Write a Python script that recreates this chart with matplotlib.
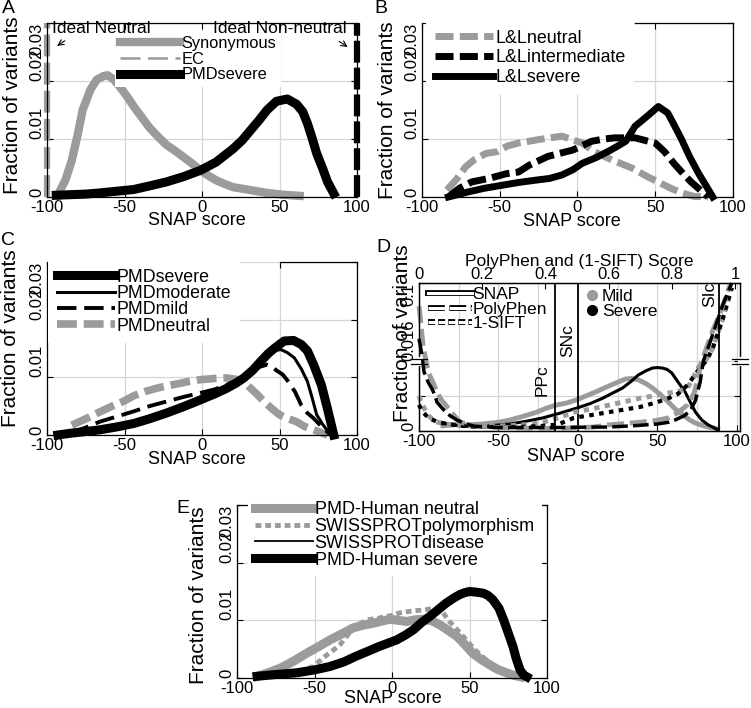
import matplotlib.pyplot as plt
import matplotlib.patheffects as pe
from matplotlib.lines import Line2D
import numpy as np

plt.rcParams['font.family'] = ['Liberation Sans', 'DejaVu Sans']

GRAY = '#9b9b9b'
GRID = '#d6d6d6'

# ---------------- data ----------------
snap_ticks = [-100, -50, 0, 50, 100]
frac_ticks = [0, 0.01, 0.02, 0.03]
frac_labels = ['0', '0.01', '0.02', '0.03']

# A
a_x = [-93, -88, -84, -80, -77, -72, -68, -64, -61, -57, -53, -48, -44, -39, -34,
       -28, -23, -17, -12, -6, -1, 4, 9, 15, 20, 31, 42, 52, 63]
a_syn = [0.0003, 0.003, 0.0063, 0.011, 0.015, 0.0185, 0.0202, 0.0208, 0.021, 0.0203,
         0.019, 0.0172, 0.0156, 0.0138, 0.012, 0.0103, 0.009, 0.0079, 0.0069, 0.0057,
         0.0046, 0.0037, 0.0029, 0.0022, 0.0017, 0.0012, 0.0007, 0.0004, 0.0002]
a_ec = [0.0008, 0.004, 0.0078, 0.0125, 0.016, 0.019, 0.0204, 0.0207, 0.0206, 0.0198,
        0.0186, 0.0169, 0.0154, 0.0136, 0.0119, 0.0102, 0.0089, 0.0078, 0.0068, 0.0056,
        0.0045, 0.0036, 0.0028, 0.0021, 0.0016, 0.0011, 0.0007, 0.0004, 0.0002]
a_sev_x = [-94, -85, -75, -66, -55, -44, -34, -23, -12, -1, 9, 20, 26, 31, 37, 42,
           48, 55, 61, 65, 68, 71, 74, 78, 81, 85]
a_sev = [0.0003, 0.0004, 0.0005, 0.0007, 0.001, 0.0013, 0.0019, 0.0026, 0.0035, 0.0046,
         0.006, 0.0083, 0.0098, 0.0114, 0.0133, 0.015, 0.0165, 0.0169, 0.016, 0.0147,
         0.0127, 0.0102, 0.0075, 0.0048, 0.0026, 0.0006]

# B
lln_x = [-84, -78, -72, -66, -59, -52, -45, -38, -25, -10, 3, 11, 22, 35, 45, 54, 60, 67, 75, 84]
lln_y = [0.0012, 0.003, 0.0052, 0.0065, 0.0075, 0.0078, 0.0088, 0.0093, 0.0099, 0.0105,
         0.0093, 0.0078, 0.0064, 0.005, 0.0035, 0.0023, 0.0015, 0.0007, 0.0001, 0.0]
lli_x = [-83, -76, -68, -57, -46, -38, -31, -19, -3, 9, 17, 24, 37, 50, 56, 62, 68, 73, 79, 84]
lli_y = [0.0, 0.0015, 0.0026, 0.0032, 0.004, 0.0043, 0.0055, 0.007, 0.0081, 0.0096,
         0.01, 0.0102, 0.0102, 0.0093, 0.0078, 0.0058, 0.004, 0.0026, 0.0012, 0.0]
lls_x = [-83, -70, -60, -49, -38, -27, -18, -10, -3, 3, 12, 20, 26, 31, 37, 42, 46,
         52, 58, 62, 67, 72, 78, 83, 87]
lls_y = [0.0, 0.0009, 0.0015, 0.002, 0.0025, 0.0029, 0.0032, 0.0038, 0.0047, 0.0058,
         0.0068, 0.0079, 0.0088, 0.0096, 0.0122, 0.0133, 0.0142, 0.0156, 0.0145, 0.0125,
         0.0099, 0.007, 0.004, 0.0018, 0.0]

# C
c_sev_x = [-93, -85, -75, -66, -55, -44, -34, -23, -12, -1, 8, 16, 22, 27, 33, 38, 43,
           47, 53, 59, 64, 68, 72, 77, 81, 85]
c_sev = [0.0, 0.0003, 0.0006, 0.0009, 0.0014, 0.002, 0.0028, 0.0038, 0.0049, 0.0061,
         0.0071, 0.0081, 0.009, 0.0099, 0.0113, 0.0128, 0.0142, 0.0151, 0.0163, 0.0164,
         0.0157, 0.0146, 0.0122, 0.0087, 0.0045, 0.0]
c_mod_x = [-93, -75, -55, -44, -34, -23, -12, -1, 8, 16, 22, 27, 33, 38, 43, 47, 51,
           55, 59.5, 64, 68, 71, 74, 78, 83]
c_mod = [0.0, 0.0007, 0.0016, 0.0022, 0.003, 0.004, 0.0051, 0.0063, 0.0073, 0.0083,
         0.0092, 0.0101, 0.0114, 0.0129, 0.0141, 0.0147, 0.0148, 0.0143, 0.0134, 0.0115,
         0.0093, 0.0065, 0.0035, 0.0018, 0.0]
c_mild_x = [-85, -75, -66, -55, -44, -34, -23, -12, -1, 8, 16, 24, 31, 37, 42, 45, 48,
            52, 55, 60, 64, 68, 72, 77, 83]
c_mild = [0.0003, 0.0013, 0.0023, 0.0032, 0.0041, 0.005, 0.0058, 0.0066, 0.0073, 0.0079,
          0.0087, 0.0097, 0.0108, 0.0118, 0.0122, 0.0119, 0.0112, 0.0105, 0.0095, 0.0075,
          0.0052, 0.0038, 0.0029, 0.0015, 0.0]
c_neu_x = [-84, -75, -66, -58, -51, -44, -36, -28, -19, -10, -1, 8, 16, 23, 29, 35, 40,
           45, 50, 55, 61, 66, 72, 77, 81]
c_neu = [0.0017, 0.0028, 0.004, 0.005, 0.0058, 0.0068, 0.0076, 0.0082, 0.0087, 0.0092,
         0.0096, 0.0098, 0.0099, 0.0096, 0.0087, 0.0072, 0.0058, 0.0046, 0.0035, 0.0029,
         0.0023, 0.0015, 0.0009, 0.0004, 0.0]

# D  (SNAP on bottom axis, PolyPhen / 1-SIFT on top axis)
d_snap_mild_x = [-85, -75, -70, -60, -50, -43, -35, -26, -20, -14, -7, -1, 5, 11, 17, 24,
                 30, 34, 38, 43, 47, 52, 57, 61, 66, 70, 74, 78, 82, 88]
d_snap_mild = [0.0012, 0.0015, 0.0014, 0.0016, 0.002, 0.0025, 0.0033, 0.0043, 0.0052,
               0.0059, 0.0064, 0.0071, 0.008, 0.0089, 0.0099, 0.011, 0.0119, 0.012, 0.0117,
               0.0108, 0.0098, 0.0083, 0.0066, 0.0051, 0.0037, 0.0026, 0.0018, 0.0013,
               0.0009, 0.0005]
d_snap_sev_x = [-85, -75, -64, -55, -43, -33, -22, -12, -1, 8, 15.6, 22, 28, 33, 38, 43,
                47, 50, 53, 56, 59, 63, 67.5, 71, 74, 78, 82, 88]
d_snap_sev = [0.0018, 0.0012, 0.0009, 0.0012, 0.0016, 0.0022, 0.003, 0.004, 0.0052,
              0.0063, 0.0075, 0.0087, 0.0098, 0.0112, 0.0128, 0.0138, 0.0144, 0.0145,
              0.0144, 0.0141, 0.0133, 0.0112, 0.0089, 0.0064, 0.0043, 0.0025, 0.0014, 0.0003]
d_pp_mild_x = [0.0, 0.005, 0.012, 0.02, 0.03, 0.045, 0.057, 0.07, 0.085, 0.1, 0.13, 0.18,
               0.25, 0.35, 0.45, 0.55, 0.6, 0.65, 0.7, 0.75, 0.79, 0.82, 0.85, 0.87, 0.88,
               0.895, 0.91, 0.93, 0.95, 0.97, 0.985]
d_pp_mild = [0.075, 0.06, 0.035, 0.02, 0.0133, 0.011, 0.0089, 0.0072, 0.0059, 0.0045,
             0.002, 0.0012, 0.0008, 0.0006, 0.0006, 0.0009, 0.0014, 0.0017, 0.002, 0.0024,
             0.003, 0.0042, 0.006, 0.0085, 0.0112, 0.016, 0.03, 0.049, 0.065, 0.084, 0.098]
d_pp_sev_x = [0.0, 0.008, 0.016, 0.03, 0.04, 0.05, 0.057, 0.07, 0.085, 0.1, 0.12, 0.15,
              0.175, 0.25, 0.35, 0.45, 0.55, 0.6, 0.68, 0.755, 0.79, 0.81, 0.84, 0.86,
              0.875, 0.89, 0.9, 0.92, 0.94, 0.96, 0.98, 0.99]
d_pp_sev = [0.04, 0.025, 0.0135, 0.011, 0.0098, 0.0082, 0.0066, 0.0055, 0.0043, 0.0034,
            0.0025, 0.0016, 0.0011, 0.0008, 0.0008, 0.0008, 0.0009, 0.0009, 0.0012, 0.0016,
            0.002, 0.0025, 0.0035, 0.0048, 0.007, 0.0112, 0.016, 0.035, 0.055, 0.075,
            0.092, 0.1]
d_sift_mild_x = [0.0, 0.01, 0.03, 0.05, 0.08, 0.12, 0.2, 0.28, 0.35, 0.39, 0.44, 0.49,
                 0.55, 0.6, 0.65, 0.7, 0.75, 0.79, 0.82, 0.85, 0.87, 0.885, 0.9, 0.91,
                 0.93, 0.96, 0.99]
d_sift_mild = [0.008, 0.006, 0.0035, 0.0022, 0.0016, 0.0013, 0.0011, 0.0012, 0.0015,
               0.002, 0.003, 0.0043, 0.0051, 0.0059, 0.0067, 0.0075, 0.0081, 0.0087, 0.009,
               0.0098, 0.0125, 0.0146, 0.016, 0.018, 0.03, 0.06, 0.095]
d_sift_sev_x = [0.0, 0.01, 0.03, 0.06, 0.1, 0.15, 0.22, 0.3, 0.38, 0.44, 0.49, 0.55, 0.6,
                0.65, 0.7, 0.75, 0.79, 0.82, 0.85, 0.87, 0.89, 0.91, 0.93, 0.96, 0.99]
d_sift_sev = [0.006, 0.0045, 0.003, 0.002, 0.0015, 0.0011, 0.0009, 0.0009, 0.0011, 0.0015,
              0.003, 0.0037, 0.0043, 0.0049, 0.0055, 0.0065, 0.0075, 0.0085, 0.0105,
              0.0125, 0.0145, 0.0165, 0.03, 0.06, 0.095]
pp_cut, snap_cut, sift_cut = 0.43, 0, 0.95
pp_ticks = [0, 0.2, 0.4, 0.6, 0.8, 1]
pp_labels = ['0', '0.2', '0.4', '0.6', '0.8', '1']

# E
e_neu_x = [-87, -80, -72, -63, -55, -47, -40, -32, -25, -18, -12, -6, -1, 4, 9.5, 15, 20,
           26, 31, 36, 42, 47, 52, 57, 63, 68, 74, 78, 83]
e_neu = [0.0003, 0.0009, 0.0017, 0.003, 0.0043, 0.0055, 0.0066, 0.0077, 0.0087, 0.0092,
         0.0095, 0.0099, 0.0102, 0.01, 0.0098, 0.0101, 0.0102, 0.0099, 0.0092, 0.0083,
         0.0072, 0.0058, 0.0043, 0.0033, 0.0023, 0.0015, 0.0009, 0.0005, 0.0002]
e_poly_x = [-66, -58, -51, -46, -42, -38, -33.5, -29, -25, -20, -16, -10, -3.4, 1, 5, 10,
            16, 21, 27, 30, 33, 37, 42, 45, 48, 53, 58, 63, 70, 77, 82]
e_poly = [0.0008, 0.0013, 0.002, 0.0031, 0.004, 0.0048, 0.0058, 0.0073, 0.0087, 0.0095,
          0.0101, 0.0103, 0.0107, 0.0109, 0.0113, 0.0115, 0.0117, 0.0118, 0.0121, 0.0118,
          0.0113, 0.0098, 0.0084, 0.0075, 0.0066, 0.005, 0.0038, 0.0026, 0.0014, 0.0006,
          0.0002]
e_sev_x = [-87, -75, -61.5, -50, -40, -31, -23, -15, -8, -2, 3, 9, 14, 19, 24.5, 30, 35,
           40, 44, 47, 50, 54, 59, 62, 65, 69, 72, 75, 78, 80, 82.6, 85, 87]
e_sev = [0.0003, 0.0006, 0.0009, 0.0014, 0.002, 0.0028, 0.0038, 0.0047, 0.0055, 0.0061,
         0.0066, 0.0075, 0.0084, 0.0096, 0.0107, 0.0119, 0.013, 0.0139, 0.0145, 0.0148,
         0.015, 0.0149, 0.0147, 0.0143, 0.0136, 0.0121, 0.0101, 0.0078, 0.0055, 0.0035,
         0.0014, 0.0005, 0.0002]
e_dis = [0.0003, 0.0006, 0.0009, 0.0014, 0.002, 0.0028, 0.0038, 0.0047, 0.0055, 0.0062,
         0.0068, 0.0077, 0.0087, 0.0099, 0.011, 0.0122, 0.0133, 0.0142, 0.0148, 0.0152,
         0.0151, 0.0148, 0.0145, 0.014, 0.0132, 0.0118, 0.0099, 0.0076, 0.0053, 0.0033,
         0.0013, 0.0005, 0.0002]

# ---------------- figure ----------------
fig = plt.figure(figsize=(7.51, 7.08), dpi=100)


def place(l, t, r, b):
    return fig.add_axes([l / 751, 1 - b / 708, (r - l) / 751, (b - t) / 708])


def style(ax, xlab, ylab):
    ax.set_xlim(-100, 100)
    ax.set_ylim(0, 0.03)
    ax.set_xticks(snap_ticks)
    ax.set_xticklabels([str(t) for t in snap_ticks])
    ax.set_yticks(frac_ticks)
    ax.set_yticklabels(frac_labels)
    ax.tick_params(direction='in', length=4, width=0.8, top=True, right=True,
                   labelsize=12, pad=2)
    ax.tick_params(axis='y', labelrotation=90)
    labs = ax.get_yticklabels()
    for lab in labs:
        lab.set_va('bottom')
    labs[-1].set_va('top')
    ax.grid(True, color=GRID, lw=0.9)
    ax.set_axisbelow(True)
    for s in ax.spines.values():
        s.set_linewidth(0.9)
    ax.set_xlabel('SNAP score', fontsize=13)
    ax.set_ylabel('Fraction of variants', fontsize=15)
    ax.xaxis.set_label_coords(*xlab)
    ax.yaxis.set_label_coords(*ylab)


leg_kw = dict(loc='upper left', borderaxespad=0, fancybox=False, facecolor='white',
              edgecolor='none', framealpha=1)

# ---- A ----
axA = place(47, 23, 357, 197)
style(axA, (0.484, -0.085), (-0.081, 0.53))
axA.plot([-100, -100], [0, 0.03], color=GRAY, lw=4.5, dashes=(3.5, 1), clip_on=False)
axA.plot([100, 100], [0, 0.03], color='black', lw=4.5, dashes=(3.5, 0.8), clip_on=False)
axA.plot(a_x, a_syn, color=GRAY, lw=6, label='Synonymous', clip_on=False)
axA.plot(a_x, a_ec, color=GRAY, lw=1.8, dashes=(8, 3), label='EC', clip_on=False)
axA.plot(a_sev_x, a_sev, color='black', lw=6.5, label='PMDsevere', clip_on=False)
axA.text(-96.8, 0.0303, 'Ideal Neutral', fontsize=12.5, va='top', zorder=6)
axA.text(7.1, 0.0303, 'Ideal Non-neutral', fontsize=12.5, va='top', zorder=6)
axA.annotate('', xy=(-95, 0.0258), xytext=(-87, 0.0272),
             arrowprops=dict(arrowstyle='->', lw=0.8, color='black'), zorder=6)
axA.annotate('', xy=(95.5, 0.0256), xytext=(87, 0.0271),
             arrowprops=dict(arrowstyle='->', lw=0.8, color='black'), zorder=6)
axA.legend(bbox_to_anchor=(0.219, 0.955), borderpad=0.3, fontsize=11.8,
           handlelength=3.66, handletextpad=0.12, labelspacing=0.05, **leg_kw)

# ---- B ----
axB = place(422, 23, 733, 197)
style(axB, (0.482, -0.092), (-0.080, 0.5))
axB.spines['top'].set_bounds(37, 100)
axB.plot(lln_x, lln_y, color=GRAY, lw=5, dashes=(2.6, 0.9), label='L&Lneutral', clip_on=False)
axB.plot(lli_x, lli_y, color='black', lw=5, dashes=(2.6, 0.9), label='L&Lintermediate',
         clip_on=False)
axB.plot(lls_x, lls_y, color='black', lw=5, label='L&Lsevere', clip_on=False)
axB.legend(bbox_to_anchor=(0.013, 1.014), borderpad=0.5, fontsize=12.9,
           handlelength=3.25, handletextpad=0.1, labelspacing=0.15, **leg_kw)

# ---- C ----
axC = place(47, 262, 357, 435)
style(axC, (0.484, -0.092), (-0.087, 0.56))
axC.spines['top'].set_bounds(50, 100)
axC.plot(c_neu_x, c_neu, color=GRAY, lw=5.5, dashes=(2.6, 0.9), label='PMDneutral',
         clip_on=False)
axC.plot(c_mild_x, c_mild, color='black', lw=2.8, dashes=(5, 2), label='PMDmild', clip_on=False)
axC.plot(c_mod_x, c_mod, color='black', lw=2.2, label='PMDmoderate', clip_on=False)
axC.plot(c_sev_x, c_sev, color='black', lw=6.5, label='PMDsevere', clip_on=False)
hC, lC = axC.get_legend_handles_labels()
axC.legend(hC[::-1], lC[::-1], bbox_to_anchor=(0.003, 1.013), borderpad=0.5, fontsize=12.8,
           handlelength=3.26, handletextpad=0.1, labelspacing=-0.04, **leg_kw)

# ---- D ----
brk, frac = 0.016, 0.473


def fwd(y):
    y = np.asarray(y, dtype=float)
    return np.where(y <= brk, y / brk * frac, frac + (y - brk) / (0.1 - brk) * (1 - frac))


def inv(v):
    v = np.asarray(v, dtype=float)
    return np.where(v <= frac, v / frac * brk, brk + (v - frac) / (1 - frac) * (0.1 - brk))


axD = place(419, 283, 740, 431)
axD.set_yscale('function', functions=(fwd, inv))
axD.set_ylim(0, 0.1)
axD.set_xlim(-99, 102)
axD2 = axD.twiny()
axD2.set_xlim(0, 1.016)

axD.set_xticks(snap_ticks)
axD.set_xticklabels([str(t) for t in snap_ticks])
axD.set_yticks([0, 0.008, brk, 0.1])
axD.set_yticklabels(['0', '', '0.016', '0.1'])
axD.tick_params(direction='in', length=4, width=0.8, right=True, top=False, labelsize=12, pad=2)
axD.tick_params(axis='y', labelrotation=90)
labs = axD.get_yticklabels()
for lab in labs:
    lab.set_va('bottom')
labs[-1].set_va('top')
axD.grid(True, color=GRID, lw=0.9)
axD.set_axisbelow(True)
for gx in (-75, -25, 25, 75):
    axD.axvline(gx, color=GRID, lw=0.9, zorder=0.6)
axD.set_xlabel('SNAP score', fontsize=13)
axD.set_ylabel('Fraction of variants', fontsize=15)
axD.xaxis.set_label_coords(0.49, -0.115)
axD.yaxis.set_label_coords(-0.022, 0.66)

axD2.set_xticks(pp_ticks)
axD2.set_xticklabels(pp_labels)
axD2.tick_params(direction='in', length=4, width=0.8, labelsize=12, pad=0.5)
axD2.set_xlabel('PolyPhen and (1-SIFT) Score', fontsize=12.5, labelpad=1)
for ax in (axD, axD2):
    for s in ax.spines.values():
        s.set_linewidth(0.9)

axD.plot(d_snap_mild_x, d_snap_mild, color=GRAY, lw=3.5, clip_on=False)
axD.plot(d_snap_sev_x, d_snap_sev, color='black', lw=2.2, clip_on=False)
axD2.plot(d_sift_mild_x, d_sift_mild, color=GRAY, lw=3.5, dashes=(1.1, 1.1), clip_on=False)
axD2.plot(d_sift_sev_x, d_sift_sev, color='black', lw=3, dashes=(1.1, 1.3), clip_on=False)
axD2.plot(d_pp_mild_x, d_pp_mild, color=GRAY, lw=3.5, dashes=(3.5, 1.2), clip_on=False)
axD2.plot(d_pp_sev_x, d_pp_sev, color='black', lw=2.5, dashes=(4.5, 1.5), clip_on=False)

axD2.axvline(pp_cut, color='black', lw=1.3)
axD.axvline(snap_cut, color='black', lw=1.3)
axD2.axvline(sift_cut, color='black', lw=1.3)
axD.text(-22.5, 0.0117, 'PPc', rotation=90, ha='center', va='center', fontsize=12.5)
axD.text(-6.3, 0.0375, 'SNc', rotation=90, ha='center', va='center', fontsize=12.5)
axD.text(82.8, 0.088, 'SIc', rotation=90, ha='center', va='center', fontsize=12.5)

# axis break marks
for xs in (0, 1):
    axD2.plot([xs, xs], [frac - 0.022, frac + 0.012], color='white', lw=3,
              transform=axD2.transAxes, clip_on=False, zorder=6)
    for dy in (-0.022, 0.012):
        axD2.plot([xs - 0.025, xs + 0.025], [frac + dy] * 2, color='black', lw=0.9,
                  transform=axD2.transAxes, clip_on=False, zorder=7)

outline = [pe.Stroke(linewidth=4.2, foreground='black'), pe.Normal()]
h_snap = Line2D([], [], color='white', lw=2.2, path_effects=outline)
h_pp = Line2D([], [], color='white', lw=2.2, dashes=(5.5, 1.5), path_effects=outline)
h_sift = Line2D([], [], color='white', lw=2.2, dashes=(2.3, 1.0), path_effects=outline)
leg1 = axD2.legend([h_snap, h_pp, h_sift], ['SNAP', 'PolyPhen', '1-SIFT'],
                   loc='upper left', bbox_to_anchor=(0.017, 0.998), borderaxespad=0,
                   borderpad=0.2, fontsize=12.6, handlelength=2.5, handletextpad=0.05,
                   labelspacing=-0.03, frameon=False)
axD2.add_artist(leg1)
h_mild = Line2D([], [], ls='none', marker='o', ms=7, color=GRAY)
h_sev = Line2D([], [], ls='none', marker='o', ms=7, color='black')
axD2.legend([h_mild, h_sev], ['Mild', 'Severe'], loc='upper left',
            bbox_to_anchor=(0.506, 0.984), borderaxespad=0, borderpad=0.2, fontsize=12.6,
            handlelength=0.8, handletextpad=0.17, labelspacing=-0.03, frameon=False)

# ---- E ----
axE = place(237, 505, 547, 678)
style(axE, (0.503, -0.07), (-0.094, 0.48))
axE.plot(e_neu_x, e_neu, color=GRAY, lw=6.5, label='PMD-Human neutral', clip_on=False)
axE.plot(e_poly_x, e_poly, color=GRAY, lw=3.5, dashes=(1.2, 0.8),
         label='SWISSPROTpolymorphism', clip_on=False)
axE.plot(e_sev_x, e_sev, color='black', lw=6.5, label='PMD-Human severe', clip_on=False)
axE.plot(e_sev_x, e_dis, color='black', lw=1.3, label='SWISSPROTdisease', clip_on=False)
hE, lE = axE.get_legend_handles_labels()
order = [0, 1, 3, 2]
axE.legend([hE[i] for i in order], [lE[i] for i in order], bbox_to_anchor=(0.035, 1.064),
           borderpad=0.4, fontsize=13, handlelength=3.2, handletextpad=0.1,
           labelspacing=-0.01, **leg_kw)

# panel letters
for letter, px, py in [('A', 2, 0), ('B', 374, 0), ('C', 1, 232), ('D', 376, 239), ('E', 176, 500)]:
    fig.text(px / 751, 1 - py / 708, letter, fontsize=14, va='top', ha='left')

fig.savefig('out.png', dpi=100)
